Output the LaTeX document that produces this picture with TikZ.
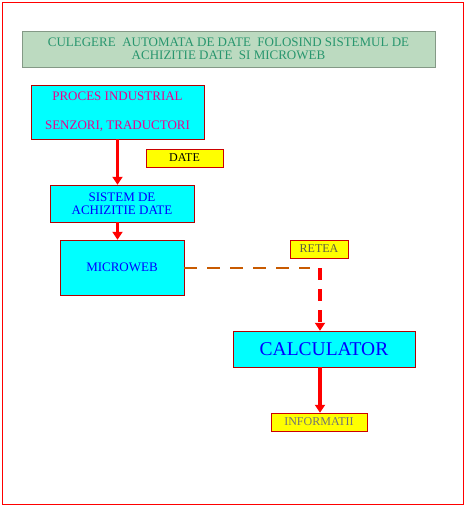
\documentclass[tikz,border=0pt]{standalone}
\usepackage{fontspec}
\setmainfont{Liberation Serif}
\usepackage{tikz}
\usetikzlibrary{positioning,arrows.meta}
\definecolor{titlefill}{RGB}{188,218,192}
\definecolor{titletext}{RGB}{40,150,110}
\definecolor{boxcyan}{RGB}{0,255,255}
\definecolor{lblyellow}{RGB}{255,255,0}
\definecolor{netorange}{RGB}{200,90,0}
\tikzset{
    title_block/.style={rectangle, fill=titlefill, draw=titlefill!70!black, thin, text=titletext, inner sep=0pt, align=center, font=\fontsize{13}{13}\selectfont},
    block/.style={rectangle, fill=boxcyan, draw=red!70!black, thin, text=blue, inner sep=0pt, align=center, font=\fontsize{13}{13}\selectfont},
    tag/.style={rectangle, fill=lblyellow, draw=red!80!black, thin, inner sep=0pt, font=\fontsize{12}{12}\selectfont},
    line/.style={-{Triangle[width=10pt,length=8pt]}, red, line width=3.5pt},
    net/.style={netorange, line width=2.4pt, dash pattern=on 13pt off 10pt},
    netdown/.style={-{Triangle[width=10pt,length=8pt]}, red, line width=3.5pt, dash pattern=on 12pt off 9pt},
}
\begin{document}
\begin{tikzpicture}
        [x=1pt,y=-1pt]
        \useasboundingbox (0,0) rectangle (466,507);
        \draw[red, thin] (2,2) rectangle (463,504);

        % Title
        \node[title_block, minimum width=413pt, minimum height=36pt] (title) at (228.5,49)
            {CULEGERE~ AUTOMATA DE DATE~ FOLOSIND SISTEMUL DE\\ACHIZITIE DATE~ SI MICROWEB};

        % Blocks of the acquisition chain
        \node[block, text=magenta, minimum width=173pt, minimum height=54pt] (proces) at (117.5,112)
            {PROCES INDUSTRIAL\\[16pt]SENZORI, TRADUCTORI};
        \node[block, minimum width=144pt, minimum height=37pt] (sistem) at (122,203.5)
            {SISTEM DE\\ACHIZITIE DATE};
        \node[block, minimum width=124pt, minimum height=55pt] (microweb) at (122,267.5) {MICROWEB};
        \node[block, font=\fontsize{19.5}{20}\selectfont, minimum width=182pt, minimum height=36pt] (calc) at (324,349) {CALCULATOR};

        % Labels
        \node[tag, minimum width=77pt, minimum height=18pt] (date) at (184.5,158) {DATE};
        \node[tag, text=black!60!yellow!70!black, minimum width=58pt, minimum height=18pt] (retea) at (319,249) {RETEA};
        \node[tag, text=black!55, minimum width=96pt, minimum height=18pt] (info) at (319,422) {INFORMATII};
        \coordinate (bend) at (320,268);

        % Lines
        \draw[line] (proces.south) -- (proces.south |- sistem.north);
        \draw[line] (proces.south |- sistem.south) -- (proces.south |- microweb.north);
        \draw[net, shorten >=10pt] (microweb.east |- bend) -- (bend);
        \draw[netdown] (bend) -- (bend |- calc.north);
        \draw[line] (bend |- calc.south) -- (info.north -| bend);

    \end{tikzpicture}
\end{document}
